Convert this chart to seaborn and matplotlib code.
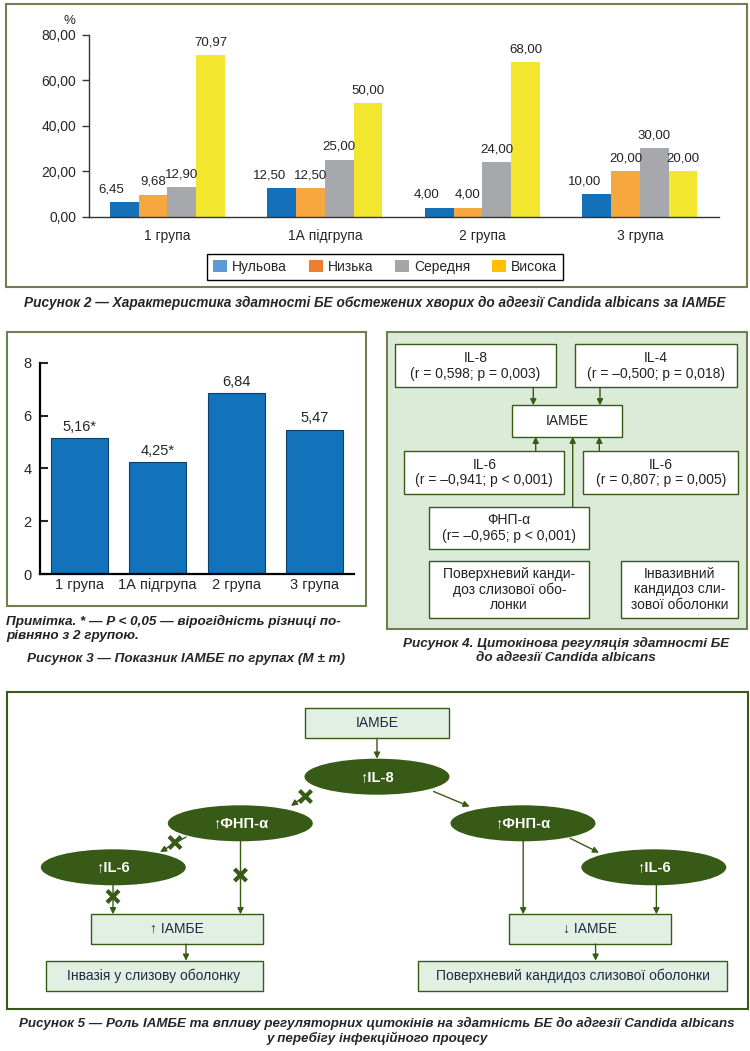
import pandas as pd
import seaborn as sns
import matplotlib.pyplot as plt
from matplotlib import font_manager
from matplotlib.patches import Rectangle, Ellipse, Patch

# ---- data ----
groups = ['1 група', '1А підгрупа', '2 група', '3 група']
levels = ['Нульова', 'Низька', 'Середня', 'Висока']
nul = [6.45, 12.50, 4.00, 10.00]
low = [9.68, 12.50, 4.00, 20.00]
mid = [12.90, 25.00, 24.00, 30.00]
high = [70.97, 50.00, 68.00, 20.00]

iambe = [5.16, 4.25, 6.84, 5.47]
iambe_labels = ['5,16*', '4,25*', '6,84', '5,47']

bar_palette = {'Нульова': '#1470b8', 'Низька': '#f7a73f', 'Середня': '#a6a8ab', 'Висока': '#f2e72e'}
legend_colors = ['#5b9bd5', '#ed7d31', '#a5a5a5', '#ffc000']

names = {f.name for f in font_manager.fontManager.ttflist}
NARROW = 'Liberation Sans Narrow' if 'Liberation Sans Narrow' in names else 'Liberation Sans'

sns.set_style('white')
plt.rcParams['font.family'] = ['Liberation Sans', 'DejaVu Sans']

OLIVE = '#6f7f4f'
DKGREEN = '#375a17'
W, H = 750, 1051

fig = plt.figure(figsize=(7.5, 10.51), dpi=100)
cv = fig.add_axes([0, 0, 1, 1])
cv.set_xlim(0, W)
cv.set_ylim(H, 0)
cv.axis('off')


def ax_at(x0, y0, x1, y1):
    return fig.add_axes([x0 / W, 1 - y1 / H, (x1 - x0) / W, (y1 - y0) / H])


def box(x0, y0, x1, y1, fc='white', ec=DKGREEN, lw=1.0):
    cv.add_patch(Rectangle((x0, y0), x1 - x0, y1 - y0, fc=fc, ec=ec, lw=lw, zorder=2))


def arrow(p0, p1, color=DKGREEN):
    cv.annotate('', xy=p1, xytext=p0,
                arrowprops=dict(arrowstyle='-|>', color=color, lw=1.0, mutation_scale=9,
                                shrinkA=0, shrinkB=0), zorder=3)


def cross(x, y, s=6):
    cv.plot([x - s, x + s], [y - s, y + s], color=DKGREEN, lw=3, zorder=4, solid_capstyle='butt')
    cv.plot([x - s, x + s], [y + s, y - s], color=DKGREEN, lw=3, zorder=4, solid_capstyle='butt')


# ================= Figure 2 =================
box(6, 4, 747, 287, fc='white', ec=OLIVE, lw=1.5)
df2 = pd.DataFrame({'group': groups * 4,
                    'level': [l for l in levels for _ in groups],
                    'value': nul + low + mid + high})
ax2 = ax_at(88.6, 34.7, 718.7, 216.7)
ax2.patch.set_alpha(0)
sns.barplot(data=df2, x='group', y='value', hue='level', palette=bar_palette,
            width=0.73, saturation=1, linewidth=0, legend=False, ax=ax2)
for i, c in enumerate(ax2.containers):
    txts = ax2.bar_label(c, fmt=lambda v: f'{v:.2f}'.replace('.', ','), padding=5,
                         fontsize=9.5, family=NARROW, color='#222222')
    if i == 0:
        for t in txts:
            t.xyann = (-9, 5)
ax2.set_ylim(0, 80)
ax2.set_yticks(range(0, 81, 20))
ax2.set_yticklabels([f'{v},00' for v in range(0, 81, 20)], family=NARROW, fontsize=10)
ax2.set_xticklabels(groups, family=NARROW, fontsize=10)
ax2.set_xticks([-0.5, 0.5, 1.5, 2.5, 3.5], minor=True)
ax2.tick_params(axis='x', which='major', length=0, pad=9)
ax2.tick_params(axis='x', which='minor', length=5, direction='out', width=1, color='#333333')
ax2.tick_params(axis='y', length=5, direction='out', width=1, color='#333333', pad=4, left=True)
ax2.set_xlabel('')
ax2.set_ylabel('')
sns.despine(ax=ax2)
for s in ('left', 'bottom'):
    ax2.spines[s].set_color('#333333')
    ax2.spines[s].set_linewidth(1)
cv.text(69.5, 20.5, '%', ha='center', va='center', fontsize=9.5, family=NARROW)
fig.legend(handles=[Patch(fc=c, ec='none', label=l) for c, l in zip(legend_colors, levels)],
           loc='center', bbox_to_anchor=(385 / W, 1 - 267 / H), ncol=4, frameon=True,
           fancybox=False, edgecolor='black', framealpha=1, handlelength=1.0, handleheight=1.0,
           handletextpad=0.35, columnspacing=1.6, borderpad=0.4,
           prop={'family': NARROW, 'size': 10})
cv.text(375, 302.5, 'Рисунок 2 — Характеристика здатності БЕ обстежених хворих до адгезії Candida albicans за ІАМБЕ',
        ha='center', va='center', fontsize=9.8, fontweight='bold', fontstyle='italic')

# ================= Figure 3 =================
box(6.5, 331.5, 365.5, 606, fc='white', ec=OLIVE, lw=1.5)
ax3 = ax_at(40, 362.7, 354, 574)
ax3.patch.set_alpha(0)
sns.barplot(x=groups, y=iambe, color='#1273ba', width=0.73, saturation=1,
            edgecolor='#0c3f6e', linewidth=0.8, ax=ax3)
ax3.bar_label(ax3.containers[0], labels=iambe_labels, padding=3, fontsize=10.5)
ax3.set_ylim(0, 8)
ax3.set_yticks([0, 2, 4, 6, 8])
ax3.tick_params(axis='y', direction='in', length=6, width=1.5, labelsize=10.5, pad=6, left=True)
ax3.set_xticks([0.5, 1.5, 2.5, 3.5], minor=True)
ax3.tick_params(axis='x', which='major', length=0, labelsize=10.5, pad=3)
ax3.tick_params(axis='x', which='minor', direction='in', length=5, width=1.2)
sns.despine(ax=ax3)
for s in ('left', 'bottom'):
    ax3.spines[s].set_color('black')
    ax3.spines[s].set_linewidth(1.6)
cv.text(6, 621.5, 'Примітка. * — P < 0,05 — вірогідність різниці по-', ha='left', va='center',
        fontsize=9.7, fontweight='bold', fontstyle='italic', color='#222222')
cv.text(6, 636, 'рівняно з 2 групою.', ha='left', va='center',
        fontsize=9.7, fontweight='bold', fontstyle='italic', color='#222222')
cv.text(186, 659, 'Рисунок 3 — Показник ІАМБЕ по групах (M ± m)', ha='center', va='center',
        fontsize=9.7, fontweight='bold', fontstyle='italic')

# ================= Figure 4 =================
box(387, 331.5, 746.5, 629, fc='#dcebd8', ec=OLIVE, lw=1.5)
f4 = dict(ha='center', va='center', fontsize=10, linespacing=1.12, zorder=3, color='#222222')
box(395, 344.3, 555.7, 387.3)
cv.text(475.3, 366, 'IL-8\n(r = 0,598; p = 0,003)', **f4)
box(575, 344.3, 736.7, 387.3)
cv.text(655.8, 366, 'IL-4\n(r = –0,500; p = 0,018)', **f4)
box(512.3, 405.3, 621.7, 436.7)
cv.text(567, 421, 'ІАМБЕ', **f4)
box(404.3, 451, 564.3, 494.3)
cv.text(484.3, 472.7, 'IL-6\n(r = –0,941; p < 0,001)', **f4)
box(583.3, 451, 738.3, 494.3)
cv.text(660.8, 472.7, 'IL-6\n(r = 0,807; p = 0,005)', **f4)
box(429.3, 506.7, 589.3, 549.3)
cv.text(509.3, 528, 'ФНП-α\n(r= –0,965; p < 0,001)', **f4)
box(429.3, 560.7, 589.3, 618.3)
cv.text(509.3, 589.5, 'Поверхневий канди-\nдоз слизової обо-\nлонки', **f4)
box(620.7, 560.7, 738.3, 618.3)
cv.text(679.5, 589.5, 'Інвазивний\nкандидоз сли-\nзової оболонки', **f4)
arrow((533.3, 387.3), (533.3, 405.3))
arrow((600, 387.3), (600, 405.3))
arrow((535.7, 451), (535.7, 436.7))
arrow((572.7, 506.7), (572.7, 436.7))
arrow((599.3, 451), (599.3, 436.7))
cv.plot([413.3, 413.3, 429.3], [494.3, 587.7, 587.7], color=DKGREEN, lw=1, zorder=1.5)
cv.plot([413.3, 429.3], [528.3, 528.3], color=DKGREEN, lw=1, zorder=1.5)
cv.plot([604.3, 604.3, 620.7], [494.3, 587.7, 587.7], color=DKGREEN, lw=1, zorder=1.5)
cv.text(566, 643, 'Рисунок 4. Цитокінова регуляція здатності БЕ', ha='center', va='center',
        fontsize=9.7, fontweight='bold', fontstyle='italic')
cv.text(566, 658, 'до адгезії Candida albicans', ha='center', va='center',
        fontsize=9.7, fontweight='bold', fontstyle='italic')

# ================= Figure 5 =================
box(6.5, 691.7, 747.5, 1009.3, fc='white', ec=DKGREEN, lw=1.5)
LTFILL = '#e2f0e3'
f5 = dict(ha='center', va='center', fontsize=10, family=[NARROW, 'DejaVu Sans'],
          color='#1d2a44', zorder=3)
box(305, 707.7, 449, 738.3, fc=LTFILL)
cv.text(377, 723, 'ІАМБЕ', **f5)


def oval(cx, cy, label, w=145, h=36):
    cv.add_patch(Ellipse((cx, cy), w, h, fc=DKGREEN, ec='none', zorder=2))
    cv.text(cx, cy, label, ha='center', va='center', fontsize=10.5, color='white',
            fontweight='bold', family=[NARROW, 'DejaVu Sans'], zorder=3)


oval(377, 776.7, '↑IL-8')
oval(240.3, 823.3, '↑ФНП-α')
oval(523, 823.3, '↑ФНП-α')
oval(113.3, 867.3, '↑IL-6')
oval(653.8, 867.3, '↑IL-6')

box(91, 914.3, 262.6, 944, fc=LTFILL)
cv.text(176.8, 929.2, '↑ ІАМБЕ', **f5)
box(45.5, 960.7, 262.6, 990.7, fc=LTFILL)
cv.text(154, 975.7, 'Інвазія у слизову оболонку', **f5)
box(509.3, 914.3, 670.8, 944, fc=LTFILL)
cv.text(590, 929.2, '↓ ІАМБЕ', **f5)
box(418.3, 960.7, 726.9, 990.7, fc=LTFILL)
cv.text(572.6, 975.7, 'Поверхневий кандидоз слизової оболонки', **f5)

arrow((377, 738.3), (377, 758.7))
arrow((310, 792), (291, 806))
cross(305.5, 796.5)
arrow((433.6, 791.5), (469.6, 806.5))
arrow((186, 837), (160, 852))
cross(175, 842.5)
arrow((240.5, 841), (240.5, 914.3))
cross(240.5, 875)
arrow((113, 885), (113, 914.3))
cross(113, 896.5)
arrow((186, 944), (186, 960.7))
arrow((523.2, 841), (523.2, 914.3))
arrow((570.2, 838.3), (599, 852.7))
arrow((656.4, 885), (656.4, 914.3))
arrow((595.6, 944), (595.6, 960.7))

cv.text(377, 1023.5, 'Рисунок 5 — Роль ІАМБЕ та впливу регуляторних цитокінів на здатність БЕ до адгезії Candida albicans',
        ha='center', va='center', fontsize=9.6, fontweight='bold', fontstyle='italic',
        family=[NARROW, 'DejaVu Sans'])
cv.text(377, 1038.5, 'у перебігу інфекційного процесу', ha='center', va='center', fontsize=9.6,
        fontweight='bold', fontstyle='italic', family=[NARROW, 'DejaVu Sans'])

fig.savefig('out.png', dpi=100)
